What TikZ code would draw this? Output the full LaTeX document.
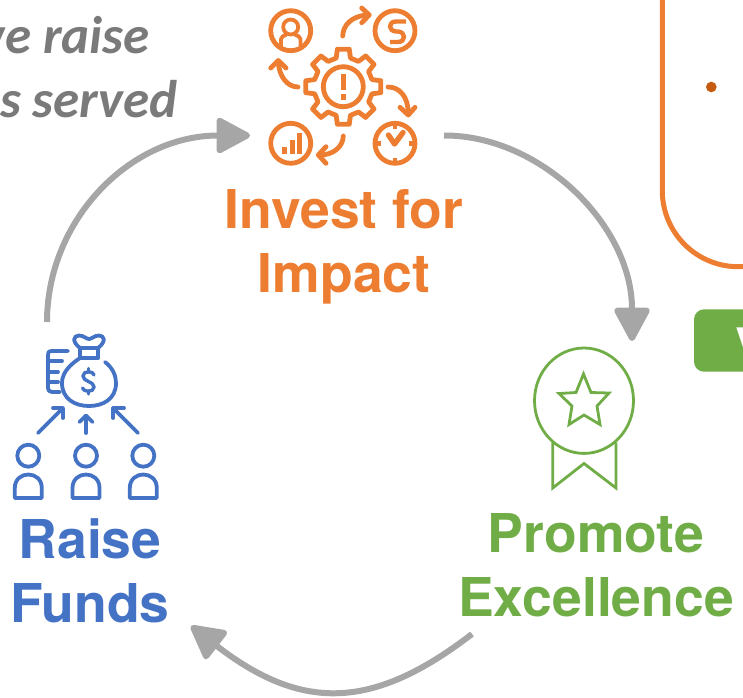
\documentclass[tikz,border=0pt]{standalone}
\usepackage{fontspec}
\setmainfont{TeX Gyre Heros}
\newfontfamily\grayfont{Carlito}
\usetikzlibrary{arrows.meta}
\definecolor{cOrange}{HTML}{ED7D31}
\definecolor{cBlue}{HTML}{4472C4}
\definecolor{cGreen}{HTML}{70AD47}
\definecolor{cGrayLine}{HTML}{A6A6A6}
\definecolor{cGrayText}{HTML}{7A7A7A}
\definecolor{cDot}{HTML}{C55A11}
\tikzset{
  flow/.style={draw=cGrayLine,line width=6pt,-{Triangle[length=37pt,width=38pt,round]},cGrayLine},
  heading/.style={font=\fontsize{53.5}{64}\selectfont\bfseries,align=center,inner sep=0pt},
  graytext/.style={font=\fontsize{53}{60}\selectfont\grayfont\bfseries\itshape,text=cGrayText,anchor=base east,inner sep=0pt},
  iconbox/.style={inner sep=0pt,outer sep=0pt,draw=none},
  iconO/.style={draw=cOrange,line width=4.8pt,line cap=round,line join=round},
  iconB/.style={draw=cBlue,line width=3.8pt,line cap=round,line join=round},
  iconG/.style={draw=cGreen,line width=2.8pt,line join=miter},
}
\begin{document}
\begin{tikzpicture}[x=1pt,y=-1pt]
\useasboundingbox (0,0) rectangle (743,697);
\clip (0,0) rectangle (743,697);

% gray cropped caption
\node[graytext] (capA) at (150,53) {we raise};
\node[graytext] (capB) at (178,117) {s served};

% right-hand cropped panel
\draw[cOrange,line width=5pt,rounded corners=76pt] (662.3,-100) rectangle (1000,266.7);
\fill[cDot] (711.3,87) circle (5.3);
\fill[cGreen,rounded corners=10pt] (694,309.3) rectangle (800,371.7);
\node[font=\fontsize{53}{64}\selectfont\bfseries,text=white,anchor=base west,inner sep=0pt] (tagV) at (735,366) {V};

% headings
\node[heading,text=cOrange] (invest) at (344,247) {Invest for\\Impact};
\node[heading,text=cBlue] (raise) at (90,571) {Raise\\Funds};
\node[heading,text=cGreen] (promote) at (596,565) {Promote\\Excellence};

% invisible icon frames
\node[iconbox,minimum width=194pt,minimum height=100pt] (investicon) at (347,135.5) {};
\node[iconbox,minimum width=80pt,minimum height=178pt] (raiseicon) at (87,411) {};
\node[iconbox,minimum width=96pt,minimum height=150pt] (promoteicon) at (584,416) {};
\coordinate (backStart) at (472,634);
\coordinate (backEnd) at (191,626);

% connectors
\draw[flow] (raiseicon.north west) .. controls (47,220) and (130,135.5) .. (investicon.west);
\draw[flow] (investicon.east) .. controls (540,135) and (632,225) .. (promoteicon.north east);
\draw[flow] (backStart) .. controls (372,711) and (301,711) .. (backEnd);

% ---- orange icon
\draw[iconO] (290.7,30.7) circle (20);
\draw[iconO] (395,30.7) circle (20);
\draw[iconO] (290.7,143.3) circle (20);
\draw[iconO] (395,143.3) circle (20);
% person
\draw[iconO,line width=3.8pt] (290.7,27) circle (7.5);
\draw[iconO,line width=3.8pt] (281,46) -- (281,39) .. controls (281,36) and (284,36) .. (286,35);
\draw[iconO,line width=3.8pt] (300.4,46) -- (300.4,39) .. controls (300.4,36) and (297.4,36) .. (295.4,35);
% S
\draw[iconO,line cap=butt,line width=4.4pt] (406,21.5) -- (396,21.5) .. controls (388,21.5) and (388,31) .. (396,31.5)
  -- (398,31.5) .. controls (406,32) and (406,42) .. (398,42) -- (390,42);
% bars
\fill[cOrange] (281.7,146.7) rectangle (286.7,153.6);
\fill[cOrange] (290,140) rectangle (295,153.6);
\fill[cOrange] (296.9,133.3) rectangle (301.9,153.6);
% clock
\draw[iconO,line width=4.4pt,line cap=butt] (395,123) -- (395,129) (395,158) -- (395,164) (375,143.3) -- (381,143.3) (409,143.3) -- (415,143.3);
\draw[iconO,line width=5.4pt] (388.5,135) -- (394.5,144) -- (403,132.5);
% gear
\draw[iconO,shift={(343.3,86.7)}] (-14:29.5)
  \foreach \a in {0,45,...,315}{ -- (\a-14:29.5) -- (\a-9:38) -- (\a+9:38) -- (\a+14:29.5)} -- cycle;
\draw[iconO] (343.3,86.7) circle (20);
\draw[cOrange,line width=5pt] (343.3,73.5) -- (343.3,90);
\draw[cOrange,line width=5pt] (343.3,94) -- (343.3,99.5);
% small arrows
\draw[iconO] (342.7,36) .. controls (343,25) and (352,16) .. (367,15);
\draw[iconO] (361.7,8) -- (369.3,15) -- (361.7,22.7);
\draw[iconO] (298,87) .. controls (287,87) and (279,76) .. (278.3,62);
\draw[iconO] (270.7,68) -- (278.3,60.5) -- (286,68);
\draw[iconO] (388,87) .. controls (400,87) and (408,97) .. (408.3,113);
\draw[iconO] (400,107.3) -- (408.3,115) -- (415,107.3);
\draw[iconO] (343.3,136) .. controls (343,147) and (333,155) .. (320,155);
\draw[iconO] (326,146.7) -- (318.3,155) -- (326,163.3);

% ---- blue icon
\draw[iconB] (105,362) .. controls (113,368) and (116,376) .. (116,383)
  .. controls (116,399) and (103,406) .. (89,406)
  .. controls (75,406) and (62,399) .. (62,383)
  .. controls (62,372) and (71,364) .. (80,358) -- (98,358);
\draw[iconB] (80,358) -- (80,348) (98,348) -- (98,358);
\draw[iconB] (80,348) -- (98,348);
\draw[iconB] (80,348) .. controls (71,341) and (74,335.5) .. (79,335.5) .. controls (84,335.5) and (86,339) .. (89,339)
  .. controls (92,339) and (94,335.5) .. (99,335.5) .. controls (104,335.5) and (107,341) .. (98,348);
\draw[iconB] (68,351) -- (52,351) .. controls (48,351) and (48,353) .. (48,355) -- (48,388) .. controls (48,390) and (49,392) .. (52,392) -- (60,392);
\draw[iconB] (50,361) -- (62,361) (50,372) -- (58,372) (50,382) -- (58,382);
\draw[iconB,line width=3.4pt] (94,375) .. controls (94,371) and (83,370) .. (83,376) .. controls (83,382) and (94,381) .. (94,387)
  .. controls (94,393) and (83,392) .. (82.5,388);
\draw[iconB,line width=3.4pt] (88.3,368.5) -- (88.3,372) (88.3,391) -- (88.3,394);
\draw[iconB] (38,433) -- (63,408);
\draw[iconB] (53,408) -- (63,408) -- (63,418);
\draw[iconB] (86,433) -- (86,416);
\draw[iconB] (79.5,422) -- (86,415.5) -- (92.5,422);
\draw[iconB] (138,433) -- (113,408);
\draw[iconB] (113,418) -- (113,408) -- (124,408);
\foreach \px in {28.3,86,143.3}{
  \draw[iconB] (\px,455.7) circle (11);
  \draw[iconB] (\px-13.5,498) -- (\px-13.5,488) .. controls (\px-13.5,470) and (\px+13.5,470) .. (\px+13.5,488) -- (\px+13.5,498) -- cycle;
}

% ---- green icon
\draw[iconG] (584,400.7) ellipse (49.5 and 52.7);
\draw[iconG] (583.5,374) -- (591,392.5) -- (609,393) -- (597,406) -- (600,424.5) -- (584,415) -- (569,424.5) -- (572,406) -- (559,393.5) -- (576,392.5) -- cycle;
\draw[iconG] (552.7,442.7) -- (552.7,488) -- (584,463.5) -- (616,488) -- (616,442.7);
\end{tikzpicture}
\end{document}
